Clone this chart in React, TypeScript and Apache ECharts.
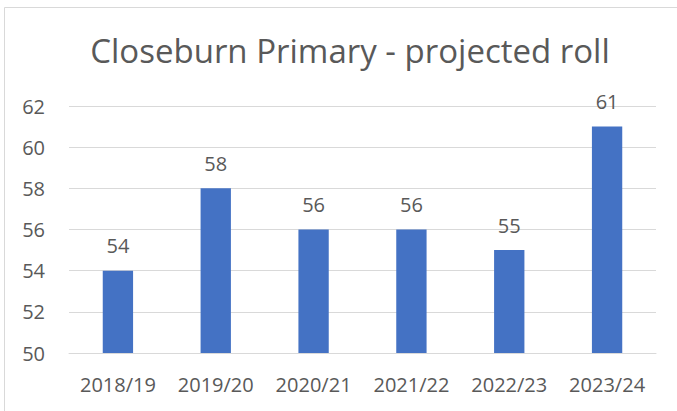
import React, { useEffect, useRef } from "react";
import * as echarts from "echarts";

const titleText = "Closeburn Primary - projected roll";
const categories = ["2018/19", "2019/20", "2020/21", "2021/22", "2022/23", "2023/24"];
const rollValues = [54, 58, 56, 56, 55, 61];
const yMin = 50;
const yMax = 62;
const yInterval = 2;

const FONT = "'Open Sans', 'Liberation Sans', sans-serif";
const TEXT_COLOR = "#595959";
const GRID_COLOR = "#d9d9d9";
const BAR_COLOR = "#4472C4";

export default function App() {
  const ref = useRef<HTMLDivElement>(null);
  useEffect(() => {
    document.body.style.margin = "0";
    if (!ref.current) return;
    const chart = echarts.init(ref.current, undefined, { renderer: "svg" });
    chart.setOption({
      animation: false,
      backgroundColor: "#ffffff",
      textStyle: { fontFamily: FONT },
      title: {
        text: titleText,
        left: 345,
        top: 29,
        textAlign: "center",
        textStyle: {
          fontFamily: FONT,
          fontSize: 33,
          fontWeight: "normal",
          color: TEXT_COLOR,
        },
      },
      graphic: [
        {
          type: "rect",
          shape: { x: 4.5, y: 7.5, width: 720, height: 440 },
          style: { fill: "none", stroke: GRID_COLOR, lineWidth: 1 },
          silent: true,
          z: -10,
        },
      ],
      grid: { left: 69, right: 21, top: 106, bottom: 58, containLabel: false },
      xAxis: {
        type: "category",
        data: categories,
        axisLine: { show: true, lineStyle: { color: GRID_COLOR, width: 1 } },
        axisTick: { show: false },
        axisLabel: {
          interval: 0,
          hideOverlap: false,
          color: TEXT_COLOR,
          fontFamily: FONT,
          fontSize: 20,
          margin: 21,
        },
      },
      yAxis: {
        type: "value",
        min: yMin,
        max: yMax,
        interval: yInterval,
        axisLine: { show: false },
        axisTick: { show: false },
        splitLine: { lineStyle: { color: GRID_COLOR, width: 1 } },
        axisLabel: {
          color: TEXT_COLOR,
          fontFamily: FONT,
          fontSize: 20,
          margin: 24,
        },
      },
      series: [
        {
          type: "bar",
          data: rollValues,
          barWidth: "31%",
          itemStyle: { color: BAR_COLOR },
          label: {
            show: true,
            position: "top",
            distance: 15,
            color: TEXT_COLOR,
            fontFamily: FONT,
            fontSize: 20,
          },
        },
      ],
    });
    return () => chart.dispose();
  }, []);
  return <div ref={ref} style={{ width: 677, height: 411 }} />;
}
